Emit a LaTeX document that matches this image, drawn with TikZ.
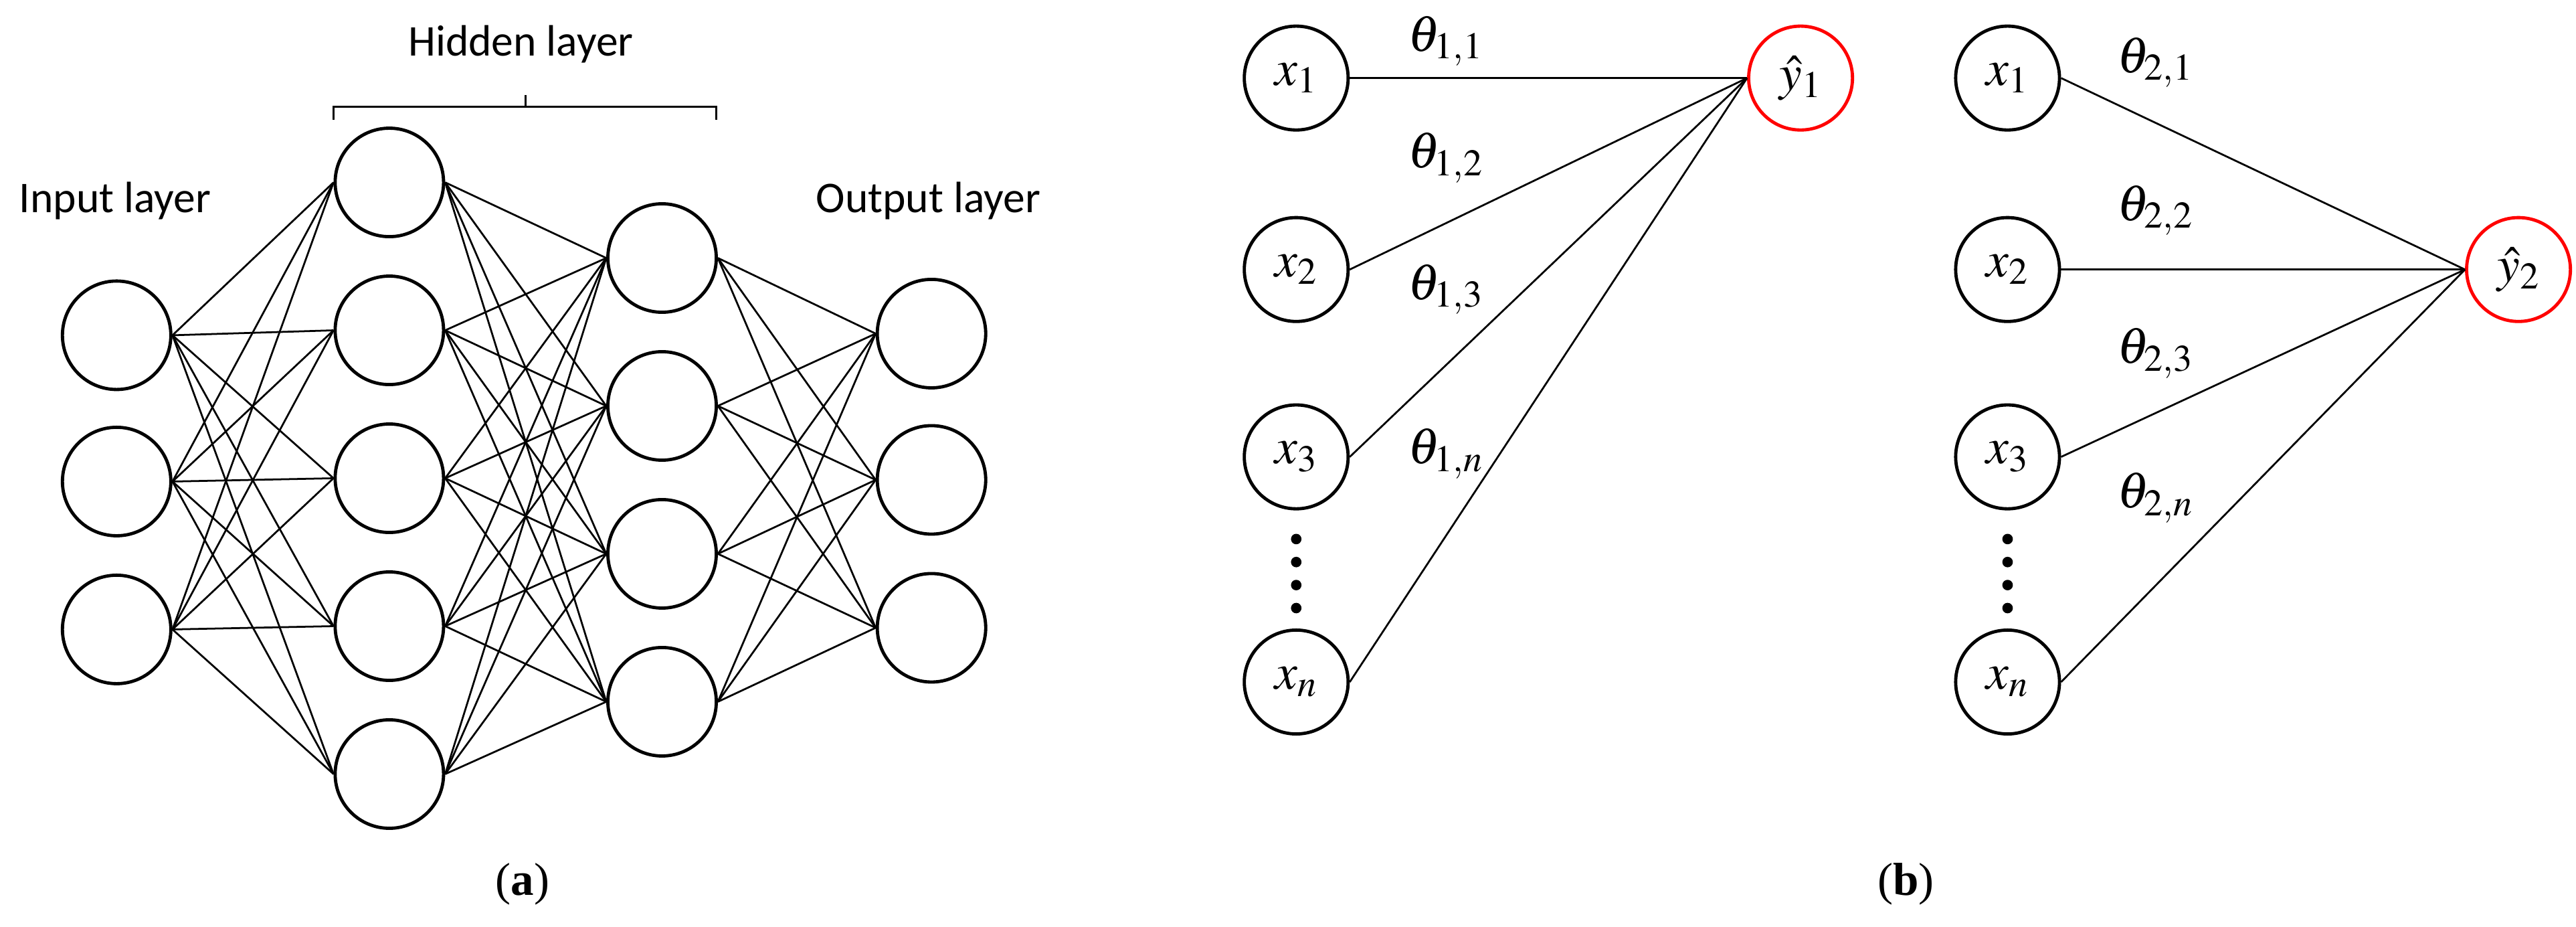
\documentclass[tikz,border=0pt]{standalone}
\usepackage{fontspec}
\usepackage{mathptmx}
\setmainfont{Liberation Serif}
\newfontfamily\calib{Carlito}
\begin{document}
\begin{tikzpicture}[x=0.25mm,y=-0.25mm,
  na/.style={circle,draw,line width=1.4pt,minimum size=16.5mm,inner sep=0pt},
  nb/.style={circle,draw,line width=1.4pt,minimum size=15.8mm,inner sep=0pt,font=\fontsize{22}{24}\selectfont},
  ny/.style={nb,draw=red},
  conn/.style={line width=0.8pt},
  lab/.style={font=\calib\fontsize{19}{22}\selectfont},
  th/.style={font=\fontsize{22}{24}\selectfont},
  capt/.style={font=\fontsize{20}{24}\selectfont}]
\useasboundingbox (0,0) rectangle (1568,564);
% panel a
\foreach \y [count=\i] in {204,293,383} \node[na] (i\i) at (71,\y) {};
\foreach \y [count=\i] in {111,201,291,381,471} \node[na] (h\i) at (237,\y) {};
\foreach \y [count=\i] in {157,247,337,427} \node[na] (g\i) at (403,\y) {};
\foreach \y [count=\i] in {203,292,382} \node[na] (o\i) at (567,\y) {};
\foreach \a in {1,2,3} \foreach \b in {1,...,5} \draw[conn] (i\a.east) -- (h\b.west);
\foreach \a in {1,...,5} \foreach \b in {1,...,4} \draw[conn] (h\a.east) -- (g\b.west);
\foreach \a in {1,...,4} \foreach \b in {1,2,3} \draw[conn] (g\a.east) -- (o\b.west);
\node[lab] (il) at (70,122) {Input layer};
\node[lab] (ol) at (565,122) {Output layer};
\node[lab] (hl) at (317,27) {Hidden layer};
\coordinate (bl) at (203,73); \coordinate (br) at (436,73);
\coordinate (bm) at (320,65); \coordinate (bt) at (320,58);
\draw[line width=0.8pt] (bl) -- (203,65) -- (436,65) -- (br);
\draw[line width=0.8pt] (bm) -- (bt);
\node[capt] (ca) at (318,538) {(\textbf{a})};
% panel b
\foreach \s/\xx/\yx/\yy in {1/789/1096/47.5, 2/1222/1533/164} {
  \node[nb] (x1\s) at (\xx,47.5) {$x_1$};
  \node[nb] (x2\s) at (\xx,164) {$x_2$};
  \node[nb] (x3\s) at (\xx,278) {$x_3$};
  \node[nb] (xn\s) at (\xx,415) {$x_n$};
  \node[ny] (y\s) at (\yx,\yy) {$\hat{y}_\s$};
  \foreach \k in {1,2,3,n} \draw[conn] (x\k\s.east) -- (y\s.west);
  \foreach \d in {328,342,356,370} \fill (\xx,\d) circle (3.2);
}
\node[th] (t11) at (880,25) {$\theta_{1,1}$};
\node[th] (t12) at (880,96) {$\theta_{1,2}$};
\node[th] (t13) at (880,176) {$\theta_{1,3}$};
\node[th] (t1n) at (880,276) {$\theta_{1,n}$};
\node[th] (t21) at (1312,38) {$\theta_{2,1}$};
\node[th] (t22) at (1312,128) {$\theta_{2,2}$};
\node[th] (t23) at (1312,215) {$\theta_{2,3}$};
\node[th] (t2n) at (1312,303) {$\theta_{2,n}$};
\node[capt] (cb) at (1160,538) {(\textbf{b})};
\end{tikzpicture}
\end{document}
